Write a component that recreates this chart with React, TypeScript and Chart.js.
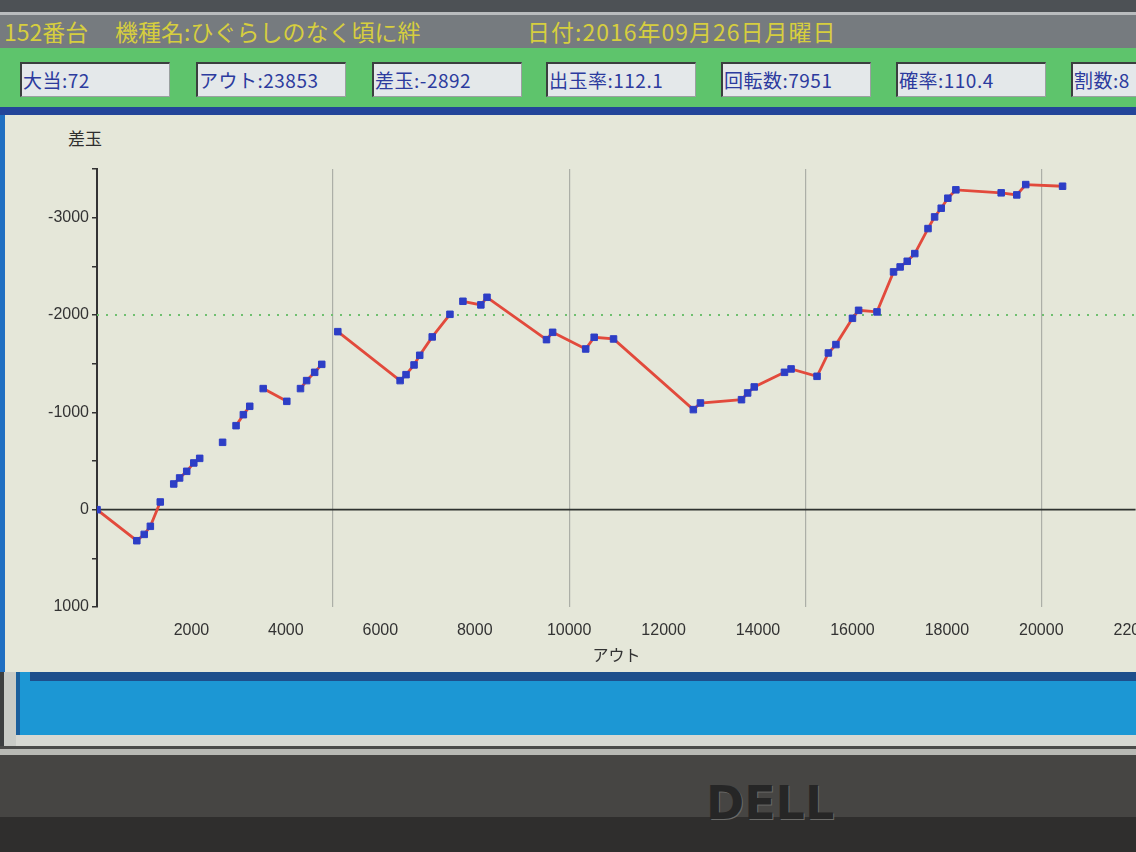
import React, { useEffect, useRef } from 'react';
import { Chart, registerables } from 'chart.js';

Chart.register(...registerables);

// アウト (x) values of each plotted point
const outValues = [
  0, 843, 1000, 1130, 1340,
  1625, 1750, 1900, 2050, 2175,
  2660,
  2945, 3100, 3235,
  3520, 4020,
  4310, 4440, 4610, 4760,
  5100, 6420, 6545, 6715, 6835, 7100, 7475,
  7750, 8130, 8260, 9520, 9650, 10350, 10530, 10940,
  12630, 12780, 13650, 13780, 13920, 14560, 14700, 15250,
  15490, 15650, 16000, 16130, 16520, 16870, 17010, 17160, 17320,
  17600, 17740, 17880, 18020, 18190, 19150, 19480, 19670, 20450,
];
// 差玉 (y) values of each plotted point
const diffValues = [
  0, 319, 254, 171, -79,
  -264, -326, -394, -480, -527,
  -692,
  -863, -976, -1062,
  -1244, -1113,
  -1244, -1326, -1411, -1493,
  -1829, -1326, -1387, -1487, -1586, -1775, -2007,
  -2141, -2104, -2182, -1747, -1822, -1651, -1771, -1754,
  -1028, -1096, -1130, -1199, -1261, -1411, -1446, -1370,
  -1610, -1696, -1966, -2048, -2032, -2443, -2494, -2552, -2631,
  -2888, -3008, -3097, -3200, -3286, -3255, -3234, -3340, -3323,
];
// line is not drawn after these アウト values
const gapAfterOut = [1340, 2175, 2660, 3235, 4020, 4760, 7475];

const xTickLabels = [2000, 4000, 6000, 8000, 10000, 12000, 14000, 16000, 18000, 20000, 22000];
const xGridValues = [5000, 10000, 15000, 20000];
const yTickLabels = [-3000, -2000, -1000, 0, 1000];
const zeroLine = [0, 0];
const dottedLine = [-2000, -2000];
const lineSpan = [0, 22000];

const headerLeft = '152番台';
const headerModel = '機種名:ひぐらしのなく頃に絆';
const headerDate = '日付:2016年09月26日月曜日';
const statLabels = ['大当:72', 'アウト:23853', '差玉:-2892', '出玉率:112.1', '回転数:7951', '確率:110.4', '割数:8'];

const RED = '#e24a3c';
const BLUE = '#2d3ec6';
const NUM_FONT = '"Liberation Sans", Arial, sans-serif';
const JP_FONT = '"Noto Sans CJK JP", "Noto Sans", sans-serif';

function ChartPanel() {
  const ref = useRef<HTMLCanvasElement | null>(null);
  useEffect(() => {
    if (!ref.current) return;
    const points = outValues.map((x, i) => ({ x, y: diffValues[i] }));
    const chart = new Chart(ref.current, {
      type: 'line',
      data: {
        datasets: [
          {
            data: points,
            borderColor: RED,
            borderWidth: 2.8,
            pointStyle: 'rect',
            pointRadius: 4.6,
            pointBackgroundColor: BLUE,
            pointBorderColor: BLUE,
            pointBorderWidth: 1,
            tension: 0,
            segment: {
              borderColor: (ctx: any) => (gapAfterOut.includes(ctx.p0.parsed.x) ? 'rgba(0,0,0,0)' : RED),
            },
          },
          {
            data: lineSpan.map((x, i) => ({ x, y: zeroLine[i] })),
            borderColor: '#2e322f',
            borderWidth: 1.6,
            pointRadius: 0,
          },
          {
            data: lineSpan.map((x, i) => ({ x, y: dottedLine[i] })),
            borderColor: '#6fbf6f',
            borderWidth: 1.8,
            borderDash: [2, 7],
            pointRadius: 0,
          },
        ],
      },
      options: {
        animation: false,
        responsive: false,
        events: [],
        layout: { padding: { top: 54, left: 0, right: 0, bottom: 0 } },
        plugins: { legend: { display: false }, tooltip: { enabled: false } },
        scales: {
          x: {
            type: 'linear',
            min: 0,
            max: 22000,
            afterFit: (s: any) => {
              s.height = 63;
            },
            border: { display: false },
            grid: {
              color: (ctx: any) => (ctx.tick && xGridValues.includes(ctx.tick.value) ? 'rgba(125,130,125,0.55)' : 'rgba(0,0,0,0)'),
              drawTicks: false,
              lineWidth: 1.2,
            },
            ticks: {
              stepSize: 1000,
              autoSkip: false,
              maxRotation: 0,
              padding: 14,
              color: '#333',
              font: { family: NUM_FONT, size: 16 },
              callback: (v: any) => (xTickLabels.includes(v) ? String(v) : ''),
            },
            title: {
              display: true,
              text: 'アウト',
              color: '#333',
              font: { family: JP_FONT, size: 16 },
              padding: { top: 0, bottom: 5 },
            },
          },
          y: {
            type: 'linear',
            reverse: true,
            min: -3500,
            max: 1000,
            afterFit: (s: any) => {
              s.width = 97;
            },
            border: { display: true, color: '#333', width: 2 },
            grid: { drawOnChartArea: false, drawTicks: true, tickLength: 5, color: '#333', lineWidth: 1.5 },
            ticks: {
              stepSize: 500,
              autoSkip: false,
              padding: 3,
              color: '#333',
              font: { family: NUM_FONT, size: 16 },
              callback: (v: any) => (yTickLabels.includes(v) ? String(v) : ''),
            },
          },
        },
      },
    });
    return () => chart.destroy();
  }, []);
  return (
    <canvas
      ref={ref}
      width={1172}
      height={555}
      style={{ position: 'absolute', left: 0, top: 115, width: 1172, height: 555 }}
    />
  );
}

const headerText: React.CSSProperties = {
  position: 'absolute',
  top: 16,
  fontFamily: JP_FONT,
  fontSize: 23,
  lineHeight: '30px',
  color: '#d6ce3e',
  whiteSpace: 'nowrap',
};

export default function App() {
  const boxLefts = [20, 196, 372, 546, 721, 896, 1071];
  return (
    <div
      style={{
        position: 'fixed',
        left: 0,
        top: 0,
        width: 1136,
        height: 852,
        overflow: 'hidden',
        background: '#3c3b39',
      }}
    >
      {/* top strip */}
      <div style={{ position: 'absolute', left: 0, top: 0, width: 1136, height: 12, background: '#4d5155' }} />
      <div style={{ position: 'absolute', left: 0, top: 12, width: 1136, height: 3, background: '#b9bcbe' }} />
      {/* gray title bar */}
      <div style={{ position: 'absolute', left: 0, top: 15, width: 1136, height: 33, background: '#767b7f' }} />
      <div style={{ ...headerText, left: 4 }}>{headerLeft}</div>
      <div style={{ ...headerText, left: 115 }}>{headerModel}</div>
      <div style={{ ...headerText, left: 527, letterSpacing: 1 }}>{headerDate}</div>
      {/* green stats bar */}
      <div style={{ position: 'absolute', left: 0, top: 48, width: 1136, height: 59, background: '#5ec46c' }} />
      {statLabels.map((t, i) => (
        <div
          key={t}
          style={{
            position: 'absolute',
            left: boxLefts[i],
            top: 62,
            width: 150,
            height: 35,
            boxSizing: 'border-box',
            background: '#e4e8ea',
            borderTop: '2px solid #3b3f3f',
            borderLeft: '2px solid #3b3f3f',
            borderRight: '1px solid #9aa0a0',
            borderBottom: '1px solid #9aa0a0',
            fontFamily: JP_FONT,
            fontSize: 19,
            letterSpacing: 0.5,
            lineHeight: '31px',
            paddingLeft: 1,
            color: '#2c3b9e',
            whiteSpace: 'nowrap',
            overflow: 'hidden',
          }}
        >
          {t}
        </div>
      ))}
      {/* chart window */}
      <div style={{ position: 'absolute', left: 0, top: 107, width: 1136, height: 8, background: '#23459a' }} />
      <div style={{ position: 'absolute', left: 0, top: 115, width: 5, height: 557, background: '#1f6fc2' }} />
      <div style={{ position: 'absolute', left: 5, top: 115, width: 1131, height: 557, background: '#e5e7d9' }} />
      <div
        style={{
          position: 'absolute',
          left: 68,
          top: 126,
          fontFamily: JP_FONT,
          fontSize: 17,
          lineHeight: '24px',
          color: '#2e2e2e',
          whiteSpace: 'nowrap',
        }}
      >
        差玉
      </div>
      <ChartPanel />
      {/* bottom blue area */}
      <div style={{ position: 'absolute', left: 0, top: 672, width: 4, height: 74, background: '#3d3f40' }} />
      <div style={{ position: 'absolute', left: 4, top: 672, width: 12, height: 74, background: '#c9cbc6' }} />
      <div style={{ position: 'absolute', left: 16, top: 672, width: 1120, height: 63, background: '#1c97d4' }} />
      <div style={{ position: 'absolute', left: 16, top: 672, width: 4, height: 63, background: '#1a5f9c' }} />
      <div style={{ position: 'absolute', left: 30, top: 672, width: 1106, height: 9, background: '#1d4f8c' }} />
      <div style={{ position: 'absolute', left: 16, top: 735, width: 1120, height: 11, background: '#d7d8d2' }} />
      <div style={{ position: 'absolute', left: 0, top: 746, width: 1136, height: 3, background: '#4a4a48' }} />
      <div style={{ position: 'absolute', left: 0, top: 749, width: 1136, height: 6, background: '#b8b9b4' }} />
      {/* monitor bezel */}
      <div style={{ position: 'absolute', left: 0, top: 755, width: 1136, height: 62, background: '#464543' }} />
      <div style={{ position: 'absolute', left: 0, top: 817, width: 1136, height: 35, background: '#2f2e2d' }} />
      <div
        style={{
          position: 'absolute',
          left: 706,
          top: 778,
          fontFamily: '"DejaVu Sans", sans-serif',
          fontWeight: 'bold',
          fontSize: 46,
          lineHeight: '50px',
          letterSpacing: 0,
          color: '#262626',
          textShadow: '1px 1px 0 #6a6a68',
          whiteSpace: 'nowrap',
        }}
      >
        DELL
      </div>
    </div>
  );
}
